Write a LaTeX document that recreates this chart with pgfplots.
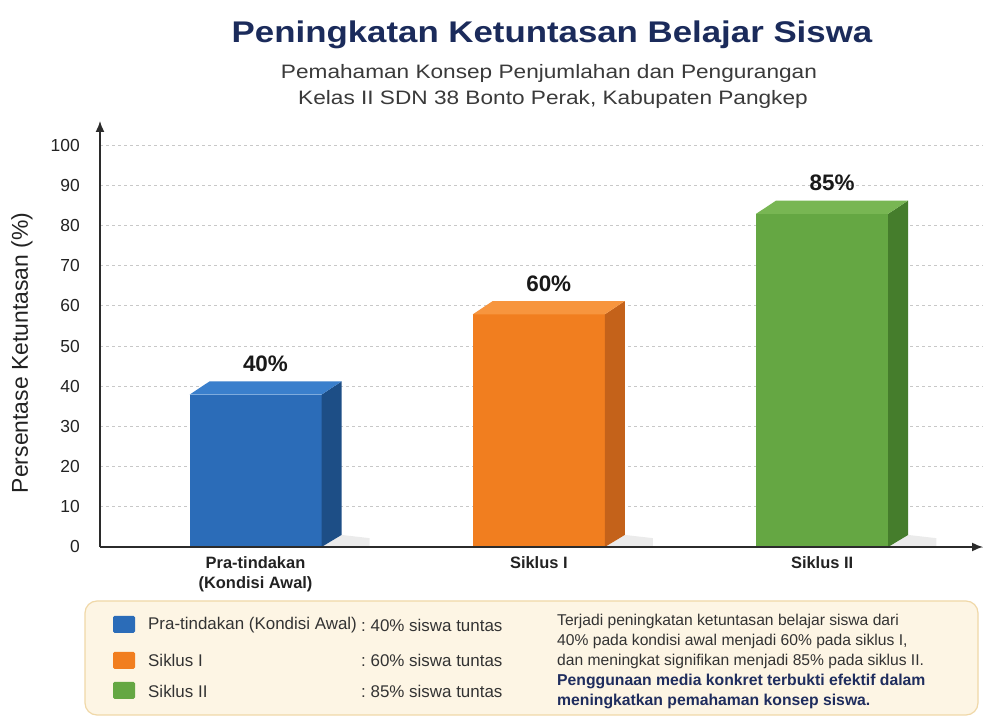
\documentclass[border=0pt]{standalone}
\usepackage{pgfplots}
\pgfplotsset{compat=1.18}
\usepackage{pgfplotstable}
\usepackage{fontspec}
\setmainfont{Liberation Sans}
\newfontfamily\condfont[FakeStretch=1.165]{Liberation Sans}
\newfontfamily\subfont[FakeStretch=1.165]{Liberation Sans}
\usetikzlibrary{arrows.meta}
\newcommand{\fs}[1]{\fontsize{#1}{#1}\selectfont}
\definecolor{titlec}{HTML}{1B2B5B}
\definecolor{subc}{HTML}{3A3A3A}
\definecolor{tickc}{HTML}{222222}
\definecolor{axisc}{HTML}{2B2B2B}
\definecolor{gridc}{HTML}{C8C8C8}
\definecolor{bluF}{HTML}{2B6CB8}
\definecolor{bluS}{HTML}{1D4E86}
\definecolor{bluT}{HTML}{3A7FCC}
\definecolor{oraF}{HTML}{F17E1F}
\definecolor{oraS}{HTML}{C4621A}
\definecolor{oraT}{HTML}{F7953E}
\definecolor{greF}{HTML}{65A743}
\definecolor{greS}{HTML}{457D2C}
\definecolor{greT}{HTML}{78B653}
\definecolor{boxfill}{HTML}{FDF5E4}
\definecolor{boxdraw}{HTML}{F0D8A8}
\definecolor{parac}{HTML}{333333}
\definecolor{navy}{HTML}{1F2D5E}

% 3D bar: #1 x position, #2 value, #3 front, #4 side, #5 top
\newcommand{\cubebar}[5]{%
 \pgfmathsetmacro\bxl{#1-0.233}%
 \pgfmathsetmacro\bxr{#1+0.233}%
 \pgfmathsetmacro\bxbl{#1-0.233+0.0706}%
 \pgfmathsetmacro\bxs{#1+0.233+0.0706}%
 \pgfmathsetmacro\bxsh{#1+0.233+0.17}%
 \pgfmathsetmacro\byf{#2-2.1}%
 \pgfmathsetmacro\byb{#2+1.2}%
 \addplot[draw=none, fill=black, fill opacity=0.08] coordinates {(\bxr,0) (\bxs,3.0) (\bxsh,2.2) (\bxsh,0)} -- cycle;
 \addplot[draw=none, fill=#3] coordinates {(\bxl,0) (\bxl,\byf) (\bxr,\byf) (\bxr,0)} -- cycle;
 \addplot[draw=none, fill=#4] coordinates {(\bxr,0) (\bxr,\byf) (\bxs,\byb) (\bxs,3.0)} -- cycle;
 \addplot[draw=none, fill=#5] coordinates {(\bxl,\byf) (\bxbl,\byb) (\bxs,\byb) (\bxr,\byf)} -- cycle;
 \node[anchor=base, font=\bfseries\fs{22.5}, text=black!90, yshift=10bp] at (axis cs:#1+0.035,#2+1.2) {#2\%};
}

\begin{document}
\begin{tikzpicture}[x=1bp,y=1bp]
\useasboundingbox (0,0) rectangle (984,718);
\fill[white] (0,0) rectangle (984,718);

% titles
\node[anchor=base, text=titlec, font=\condfont\bfseries\fs{30}] at (552,675) {Peningkatan Ketuntasan Belajar Siswa};
\node[anchor=base, text=subc, font=\subfont\fs{19.5}] at (549,639) {Pemahaman Konsep Penjumlahan dan Pengurangan};
\node[anchor=base, text=subc, font=\subfont\fs{19.5}] at (553,613) {Kelas II SDN 38 Bonto Perak, Kabupaten Pangkep};

% y label
\node[rotate=90, text=tickc, font=\fs{23}] at (22,365) {Persentase Ketuntasan (\%)};

\begin{axis}[
  at={(100bp,171bp)}, anchor=south west,
  scale only axis, width=883bp, height=426bp,
  xmin=-0.549, xmax=2.568, ymin=0, ymax=106,
  axis lines=left,
  axis line style={draw=axisc, line width=1.6bp, -{Latex[length=11bp,width=9bp]}},
  ymajorgrids,
  grid style={dashed, dash pattern=on 3bp off 3bp, gridc, line width=0.8bp},
  ytick={0,10,...,100},
  xtick={0,1,2},
  xticklabels={{Pra-tindakan\\(Kondisi Awal)},{Siklus I},{Siklus II}},
  major tick length=0pt,
  yticklabel style={font=\fs{17.5}, text=tickc, anchor=east, inner sep=0pt, xshift=-20bp},
  xticklabel style={font=\bfseries\fontsize{16.5}{20}\selectfont, text=tickc, anchor=north, inner sep=0pt, yshift=-9bp, align=center},
  /pgf/number format/assume math mode=true,
  clip=false,
]
\cubebar{0}{40}{bluF}{bluS}{bluT}
\cubebar{1}{60}{oraF}{oraS}{oraT}
\cubebar{2}{85}{greF}{greS}{greT}
\draw[axisc, line width=1.6bp] (axis cs:-0.549,0) -- (axis cs:2.5,0);
\end{axis}

% legend box
\draw[rounded corners=12bp, fill=boxfill, draw=boxdraw, line width=1.2bp] (85,3) rectangle (978,117);
\fill[bluF, rounded corners=1.5bp] (113,85) rectangle (135,102);
\fill[oraF, rounded corners=1.5bp] (113,49) rectangle (135,66);
\fill[greF, rounded corners=1.5bp] (113,19) rectangle (135,36);
\begin{scope}[every node/.style={anchor=west, inner sep=0pt, text=parac, font=\fs{17}}]
\node at (148,93) {Pra-tindakan (Kondisi Awal)};
\node at (148,58) {Siklus I};
\node at (148,27) {Siklus II};
\node at (361,93) {:\ 40\% siswa tuntas};
\node at (361,58) {:\ 60\% siswa tuntas};
\node at (361,27) {:\ 85\% siswa tuntas};
\end{scope}
\begin{scope}[every node/.style={anchor=base west, inner sep=0pt, font=\fs{15.7}}]
\node[text=parac] at (557,92) {Terjadi peningkatan ketuntasan belajar siswa dari};
\node[text=parac] at (557,72) {40\% pada kondisi awal menjadi 60\% pada siklus I,};
\node[text=parac] at (557,52) {dan meningkat signifikan menjadi 85\% pada siklus II.};
\node[text=navy, font=\bfseries\fs{15.8}] at (557,32) {Penggunaan media konkret terbukti efektif dalam};
\node[text=navy, font=\bfseries\fs{15.8}] at (557,12) {meningkatkan pemahaman konsep siswa.};
\end{scope}
\end{tikzpicture}
\end{document}
